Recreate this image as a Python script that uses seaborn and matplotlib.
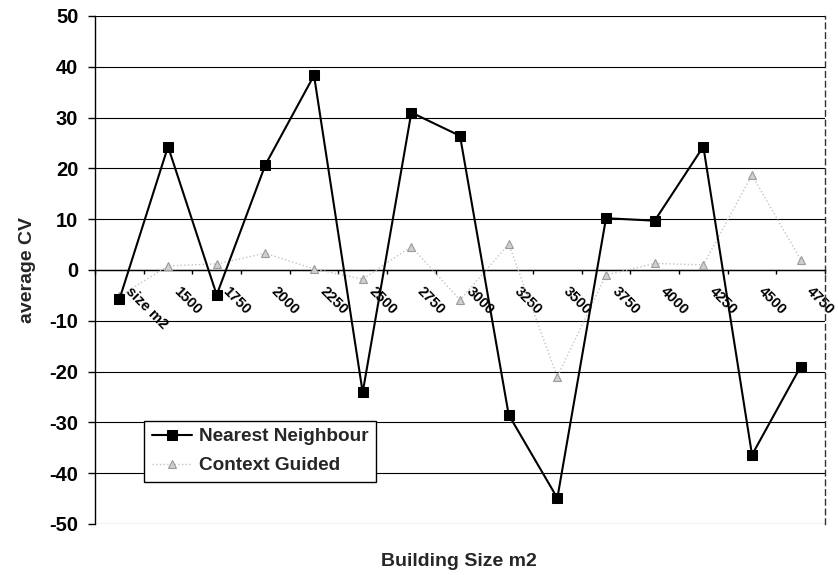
import matplotlib
matplotlib.use("Agg")
import matplotlib.pyplot as plt
import matplotlib.transforms as mtransforms
import numpy as np
import pandas as pd
import seaborn as sns

# values
sizes = ["size m2", "1500", "1750", "2000", "2250", "2500", "2750", "3000",
         "3250", "3500", "3750", "4000", "4250", "4500", "4750"]
nearest_neighbour = [-5.8, 24.3, -4.9, 20.7, 38.3, -24.1, 31.0, 26.4,
                     -28.5, -44.9, 10.2, 9.7, 24.3, -36.4, -19.0]
context_guided = [-5.2, 0.8, 1.2, 3.3, 0.2, -1.8, 4.6, -5.9,
                  5.1, -21.0, -1.0, 1.3, 1.0, 18.7, 2.0]
y_ticks = [-50, -40, -30, -20, -10, 0, 10, 20, 30, 40, 50]

df = pd.DataFrame({"size": sizes, "nn": nearest_neighbour, "cg": context_guided})
df["pos"] = np.arange(len(df))

sns.set_style("white")
plt.rcParams["font.family"] = ["Liberation Sans", "DejaVu Sans"]
plt.rcParams["font.weight"] = "bold"
plt.rcParams["axes.unicode_minus"] = False

fig = plt.figure(figsize=(8.38, 5.75), dpi=100)
ax = fig.add_axes([0.1134, 0.0887, 0.8711, 0.8835])

sns.lineplot(data=df, x="pos", y="cg", ax=ax, color="#c4c4c4", lw=1,
             linestyle=":", marker="^", markersize=6, markerfacecolor="#cfcfcf",
             markeredgecolor="#9a9a9a", markeredgewidth=0.8,
             label="Context Guided", zorder=3)
sns.lineplot(data=df, x="pos", y="nn", ax=ax, color="black", lw=1.5,
             marker="s", markersize=7, markeredgecolor="black",
             label="Nearest Neighbour", zorder=4)

n = len(sizes)
ax.set_xlim(-0.5, n - 0.5)
ax.set_ylim(-50, 50)
ax.set_yticks(y_ticks)
ax.tick_params(axis="y", labelsize=14.5, length=5, width=1, direction="out",
               pad=7, colors="black", left=True)
ax.yaxis.grid(True, color="black", lw=0.8)
ax.xaxis.grid(False)
ax.set_axisbelow(True)

# x axis crosses at zero, labels rotated like the spreadsheet chart
ax.spines["bottom"].set_position(("data", 0))
ax.spines["bottom"].set_color("black")
ax.spines["bottom"].set_linewidth(1)
ax.spines["top"].set_visible(False)
ax.spines["left"].set_color("black")
ax.spines["left"].set_linewidth(1)
ax.spines["right"].set_color("#333333")
ax.spines["right"].set_linestyle((0, (4, 3)))
ax.spines["right"].set_linewidth(1)

ax.set_xticks(df["pos"])
ax.set_xticks(np.arange(n + 1) - 0.5, minor=True)
ax.set_xticklabels(sizes, rotation=-45, ha="left", va="top",
                   rotation_mode="anchor", fontsize=10.5)
ax.tick_params(axis="x", which="major", length=0, pad=10, colors="black")
ax.tick_params(axis="x", which="minor", length=3, width=1, direction="out",
               bottom=True, color="black")
offset = mtransforms.ScaledTranslation(9.5 / 72, 0, fig.dpi_scale_trans)
for lbl in ax.get_xticklabels():
    lbl.set_transform(lbl.get_transform() + offset)

ax.set_xlabel("")
ax.set_ylabel("average CV", fontsize=14, fontweight="bold")
ax.yaxis.set_label_coords(-0.081, 0.5)
fig.text(0.548, 1 - 561 / 575, "Building Size m2", ha="center", va="center",
         fontsize=14, fontweight="bold")

handles, labels = ax.get_legend_handles_labels()
leg = ax.legend(handles[::-1], labels[::-1], loc="lower left",
                bbox_to_anchor=(0.067, 0.083), borderaxespad=0,
                fancybox=False, framealpha=1, edgecolor="black",
                fontsize=13.7, handlelength=2.1, handletextpad=0.4,
                labelspacing=0.6, borderpad=0.4)
leg.get_frame().set_linewidth(1)

fig.savefig("out.png", dpi=100)
